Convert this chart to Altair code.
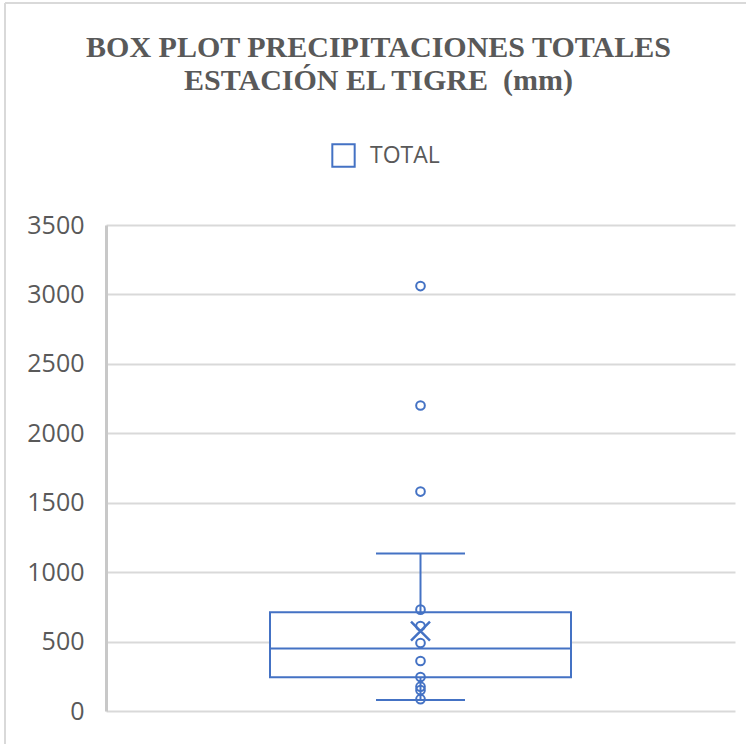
import altair as alt
import pandas as pd

# Box-plot summary for total precipitation (mm), station El Tigre
SERIES = ["TOTAL"]
Q1 = [243]
MEDIAN = [451]
Q3 = [712]
WHISKER_LOW = [79]
WHISKER_HIGH = [1135]
MEAN = [575]

# individual observations drawn as open circles (inner points and outliers)
POINTS = [3060, 2200, 1580, 730, 612, 490, 360, 245, 175, 150, 85]

Y_TICKS = [0, 500, 1000, 1500, 2000, 2500, 3000, 3500]

BLUE = "#4472C4"
GREY_TEXT = "#595959"

summary = pd.DataFrame({
    "series": SERIES,
    "q1": Q1,
    "median": MEDIAN,
    "q3": Q3,
    "lo": WHISKER_LOW,
    "hi": WHISKER_HIGH,
    "mean": MEAN,
})
points = pd.DataFrame({"series": SERIES * len(POINTS), "value": POINTS})

W, H = 629, 486
BOX_W = 301
CAP_W = 89

x_enc = alt.X(
    "series:N",
    axis=None,
    scale=alt.Scale(paddingInner=0, paddingOuter=0.545),
)
y_scale = alt.Scale(domain=[0, 3500], nice=False, zero=True)
y_axis = alt.Axis(
    values=Y_TICKS,
    format="d",
    title=None,
    grid=True,
    gridColor="#d9d9d9",
    gridWidth=2,
    domain=True,
    domainColor="#c8c8c8",
    domainWidth=3,
    ticks=False,
    labelFont="Open Sans",
    labelFontSize=25,
    labelColor=GREY_TEXT,
    labelPadding=22,
)

base = alt.Chart(summary)

whisker = base.mark_rule(color=BLUE, strokeWidth=2).encode(
    x=x_enc,
    y=alt.Y("lo:Q", scale=y_scale, axis=y_axis),
    y2="hi:Q",
)

box = base.mark_bar(size=BOX_W, fill="white", strokeWidth=2, opacity=1).encode(
    x=x_enc,
    y=alt.Y("q1:Q", scale=y_scale),
    y2="q3:Q",
    stroke=alt.Stroke(
        "series:N",
        scale=alt.Scale(range=[BLUE]),
        legend=alt.Legend(
            title=None,
            orient="none",
            legendX=225,
            legendY=-82,
            padding=0,
            symbolType="square",
            symbolSize=500,
            symbolFillColor="white",
            symbolStrokeWidth=2,
            labelFont="Open Sans",
            labelFontSize=23,
            labelColor=GREY_TEXT,
            labelOffset=14,
        ),
    ),
)

median = base.mark_tick(color=BLUE, size=BOX_W, thickness=2, opacity=1).encode(
    x=x_enc, y=alt.Y("median:Q", scale=y_scale)
)

caps_hi = base.mark_tick(color=BLUE, size=CAP_W, thickness=2, opacity=1).encode(
    x=x_enc, y=alt.Y("hi:Q", scale=y_scale)
)
caps_lo = base.mark_tick(color=BLUE, size=CAP_W, thickness=2, opacity=1).encode(
    x=x_enc, y=alt.Y("lo:Q", scale=y_scale)
)

mean_mark = base.mark_point(
    shape="M-1,-1L1,1M-1,1L1,-1",
    size=360,
    filled=False,
    color=BLUE,
    strokeWidth=2.5,
    opacity=1,
).encode(x=x_enc, y=alt.Y("mean:Q", scale=y_scale))

dots = alt.Chart(points).mark_point(
    shape="circle",
    size=75,
    filled=False,
    color=BLUE,
    strokeWidth=2,
    opacity=1,
).encode(x=x_enc, y=alt.Y("value:Q", scale=y_scale))

# outer chart frame (top and left edges)
frame_top = base.mark_rule(color="#d9d9d9", strokeWidth=2, clip=False).encode(
    x=alt.value(-101), x2=alt.value(W + 20), y=alt.value(-222)
)
frame_left = base.mark_rule(color="#d9d9d9", strokeWidth=2, clip=False).encode(
    x=alt.value(-101), y=alt.value(-222), y2=alt.value(H + 40)
)

chart = (
    alt.layer(frame_top, frame_left, whisker, box, median, caps_hi, caps_lo, dots, mean_mark)
    .properties(
        width=W,
        height=H,
        autosize=alt.AutoSizeParams(type="none"),
        padding={"left": 106, "top": 225, "right": 11, "bottom": 33},
        title=alt.Title(
            ["BOX PLOT PRECIPITACIONES TOTALES", "ESTACIÓN EL TIGRE\u00a0 (mm)"],
            font="Liberation Serif",
            fontSize=30,
            fontWeight="bold",
            color=GREY_TEXT,
            anchor="middle",
            dx=-42,
            offset=-94,
            lineHeight=33,
        ),
    )
    .configure(background="white")
    .configure_view(stroke=None)
)

chart.save("out.html", embed_options={"renderer": "svg", "actions": False})
